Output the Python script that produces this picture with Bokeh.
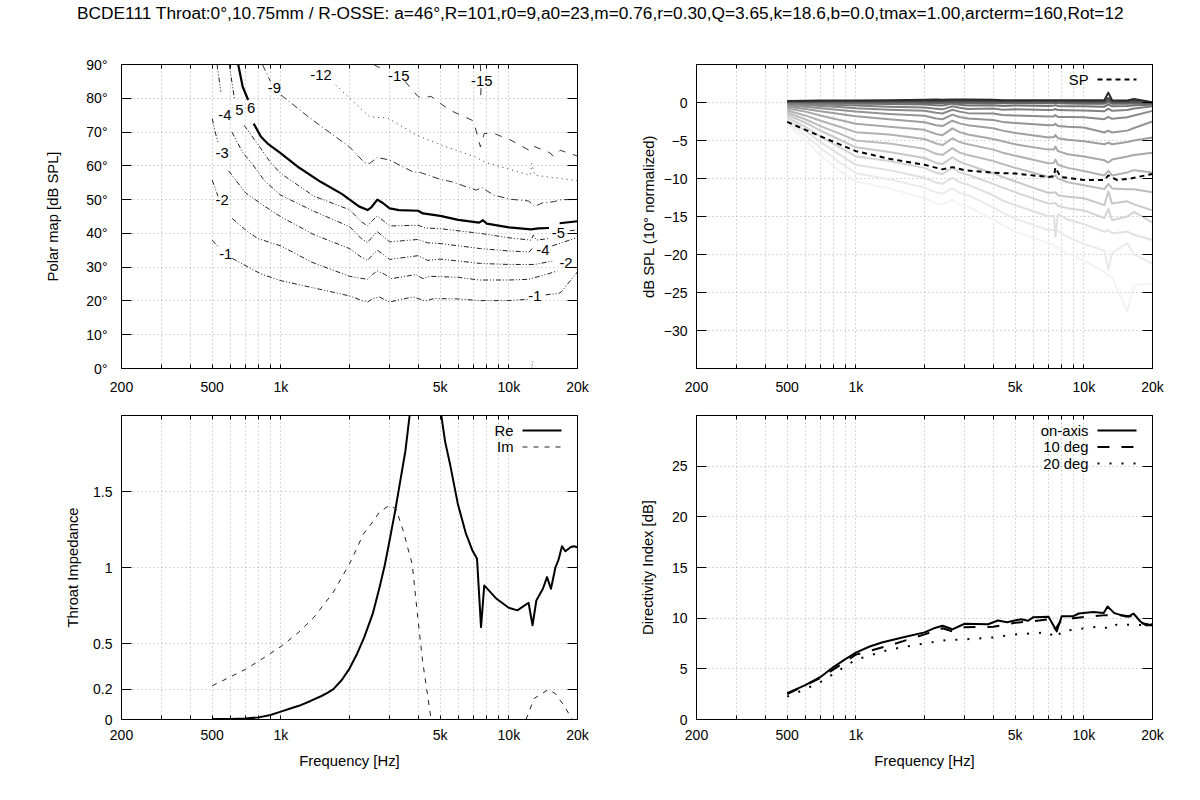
from bokeh.core.properties import value
from bokeh.embed import file_html
from bokeh.resources import INLINE
from bokeh.layouts import column, row
from bokeh.models import (ColumnDataSource, FixedTicker, Grid, Label, LinearAxis, LogAxis, LogScale,
                          Range1d, Title)
from bokeh.plotting import figure

nan = float("nan")

TITLE = ("BCDE111 Throat:0°,10.75mm / R-OSSE: a=46°,R=101,r0=9,a0=23,m=0.76,r=0.30,"
         "Q=3.65,k=18.6,b=0.0,tmax=1.00,arcterm=160,Rot=12")
x_major = [200, 500, 1000, 5000, 10000, 20000]
x_minor = [300, 400, 600, 700, 800, 900, 2000, 3000, 4000, 6000, 7000, 8000, 9000]
x_labels = {200: "200", 500: "500", 1000: "1k", 5000: "5k", 10000: "10k", 20000: "20k"}

# ---------- polar map contours ----------
polar_ticks = [0, 10, 20, 30, 40, 50, 60, 70, 80, 90]
c1_f = [500, 530, nan, 612, 817, 1000, 1363, 2000, 2250, 2400, 2520, 2700, 2850, 3000, 3800, 4300, 4700, 6000, 7400, 10000, 12200, nan, 14500, 16500, 17000, 20000]
c1_a = [38, 36, nan, 32.6, 28, 26, 24, 21.5, 20.2, 19.7, 20.6, 21.2, 20.4, 19.7, 21.2, 20, 20.7, 20.6, 20.1, 20.1, 20.5, nan, 21.8, 22.2, 22.7, 28.6]
c2_f = [500, 530, nan, 612, 700, 790, 1000, 1363, 2000, 2250, 2400, 2520, 2650, 2850, 3050, 3900, 4200, 4500, 6000, 7400, 10000, 12200, 15000, 16300, nan, 20000]
c2_a = [55.8, 51, nan, 44.4, 41, 38.5, 36.3, 31.5, 27.3, 26.7, 26.4, 27.8, 28.9, 27.9, 26.6, 27.8, 26.6, 27.3, 27, 26.2, 26.2, 26.4, 28.1, 28.9, nan, 32]
c3_f = [500, 515, 530, nan, 590, 700, 850, 1000, 1400, 2000, 2250, 2400, 2520, 2650, 2820, 3000, 4000, 4400, 5000, 7500, 10000, 13000, 15500, nan, 20000]
c3_a = [74, 70, 67, nan, 58.5, 52, 48, 44.9, 39.6, 35.5, 33, 32, 33.6, 35, 33.7, 32.3, 33.4, 32, 32.4, 31.1, 30.8, 30.8, 31.8, nan, 36]
c4_f = [525, 545, nan, 610, 680, 750, 850, 1000, 1400, 2000, 2250, 2400, 2520, 2650, 2820, 3000, 4000, 4400, 5000, 7500, 10000, 12300, 12800, nan, 15500, 20000]
c4_a = [90, 82, nan, 70, 64, 60.5, 55.5, 51.3, 46.5, 42, 38.5, 37.3, 39, 40.5, 39, 37.5, 38.2, 37.2, 37, 35.5, 34.8, 34.5, 36, nan, 36.3, 38.8]
c5_f = [594, 625, nan, 690, 800, 900, 1000, 1400, 2000, 2250, 2400, 2520, 2650, 2820, 3000, 4000, 4300, 5000, 7500, 10000, 12500, 12800, 13200, 15000, nan, 18500, 20000]
c5_a = [90, 80, nan, 72, 66, 61, 57.7, 51, 47, 43.5, 42.2, 43.8, 45.2, 43.7, 42.2, 42.4, 41.6, 41.4, 40, 38.7, 38, 39.5, 38, 38.5, nan, 40.8, 41]
c6_f = [650, 680, 719, nan, 760, 818, 875, 1000, 1200, 1500, 1850, 2200, 2400, 2500, 2650, 2800, 3000, 3300, 4000, 4200, 5000, 6000, 7400, 7700, 8000, 10000, 12500, 13500, 15000, nan, 16700, 20000]
c6_a = [90, 83.4, 79.5, nan, 72.5, 68.6, 66.6, 63.7, 59.5, 55.2, 51.7, 48, 46.9, 47.8, 50, 49, 47.4, 46.9, 46.7, 45.9, 45.2, 44, 43.2, 43.9, 42.9, 41.8, 41.2, 41.5, 41.6, nan, 43, 43.6]
c9_f = [830, 900, nan, 1000, 1350, 2000, 2330, 2450, 2650, 3000, 3800, 4100, 5000, 5600, 7200, 7600, 8600, 10200, 12200, 13000, 14000, 15800, 17000, 20000]
c9_a = [90, 85, nan, 81, 74, 65.6, 60.9, 60.7, 62.5, 61.7, 58.2, 58, 56, 55.3, 52.8, 53.6, 51.3, 50.1, 49.6, 48, 49, 49.4, 50, 50]
c12_f = [1740, 2450, 2930, 3970, 5100, 7100, 7900, 9800, 12400, 12600, 13000, 20000]
c12_a = [83.9, 74.5, 74.2, 69, 66, 62.7, 61, 59.2, 57.2, 60.7, 57.2, 55.6]
c15_f = [2550, 2800, nan, 3500, 4000, 4200, 4550, 5500, 7000, 7500, 7800, 8600, 10200, 12200, 12600, 15000, 15800, 16800, 20000]
c15_a = [90, 88.5, nan, 85, 80.5, 80, 80.6, 76.5, 73.3, 65.6, 69.6, 69.6, 67.6, 64.7, 66, 64, 62.7, 64.6, 62.9]
c15b_f = [7500, 7520, nan, 7550, 7500]
c15b_a = [90, 88, nan, 83, 78.5]
c_small_f = [12600, 12700]
c_small_a = [0, 2]
clab_text = ["-1", "-2", "-3", "-4", "5", "6", "-9", "-12", "-15", "-15", "-5", "-4", "-2", "-1"]
clab_f = [573, 552, 552, 568, 657, 740, 937, 1500, 3290, 7600, 16500, 14100, 17800, 13000]
clab_a = [33.9, 49.9, 63.7, 75, 76.5, 77, 83, 86.9, 86.6, 85, 40, 35.2, 31.3, 21.4]

# ---------- normalized SPL curves ----------
spl_ticks = [0, -5, -10, -15, -20, -25, -30]
spl_f = [500, 600, 700, 850, 1000, 1400, 2000, 2250, 2400, 2650, 2850, 3100, 4000, 4400, 5000, 7000, 7400, 7500, 7700, 8500, 10000, 12300, 12800, 13300, 15500, 16600, 20000]
L0 = [.2, .22, .25, .25, .25, .3, .35, .38, .35, .4, .4, .4, .35, .3, .3, .3, .3, .3, .3, .3, .3, .3, 1.3, .3, .25, .45, .05]
L1 = [.15, .17, .2, .2, .2, .2, .2, .2, .2, .25, .22, .2, .2, .2, .2, .2, .2, .2, .2, .2, .2, .2, .6, .2, .15, .25, 0]
L2 = [.1, .1, .1, .1, .1, .1, .1, .08, .05, .1, .1, .1, .1, .08, .1, .1, .1, .1, .1, .08, .05, .05, .3, .05, .05, .1, -.05]
L3 = [.05, .05, .05, .02, 0, 0, -.05, -.08, -.1, 0, -.05, -.1, -.05, -.1, -.1, -.1, -.08, -.05, -.1, -.12, -.15, -.15, .05, -.15, -.15, -.1, -.15]
L4 = [0, -.02, -.05, -.1, -.15, -.2, -.25, -.35, -.4, -.15, -.3, -.4, -.35, -.45, -.4, -.45, -.4, -.35, -.45, -.48, -.5, -.55, -.25, -.5, -.45, -.35, -.3]
L5 = [-.12, -.18, -.25, -.33, -.4, -.55, -.65, -.82, -.9, -.5, -.7, -.85, -.8, -.95, -.9, -1, -.95, -.85, -1, -1.02, -1.05, -1.15, -.8, -1.1, -1, -.8, -.5]
L6 = [-.22, -.33, -.45, -.6, -.75, -.95, -1.1, -1.35, -1.45, -.95, -1.2, -1.4, -1.45, -1.65, -1.7, -1.85, -1.8, -1.65, -1.9, -1.92, -1.95, -2.2, -1.9, -2.15, -1.95, -1.7, -1.1]
L7 = [-.38, -.55, -.75, -1, -1.2, -1.5, -1.75, -2.1, -2.2, -1.6, -1.9, -2.1, -2.3, -2.55, -2.7, -3, -2.95, -2.8, -3.1, -3.2, -3.3, -3.95, -3.7, -3.95, -3.7, -3.35, -2.5]
L8 = [-.55, -.85, -1.15, -1.5, -1.8, -2.2, -2.6, -3, -3.1, -2.4, -2.75, -3, -3.4, -3.7, -4, -4.6, -4.55, -4.3, -4.7, -4.9, -5.1, -5.5, -5.3, -5.5, -5.2, -5, -4.6]
L9 = [-.8, -1.2, -1.7, -2.3, -2.8, -3.2, -3.6, -4.15, -4.3, -3.4, -3.9, -4.2, -4.8, -5.1, -5.5, -6.2, -6.15, -5.8, -6.4, -6.8, -7.1, -7.6, -7.9, -7.5, -7.1, -6.9, -6.6]
L10 = [-1.05, -1.7, -2.4, -3.2, -3.9, -4.2, -4.8, -5.4, -5.6, -4.7, -5.2, -5.5, -6.2, -6.6, -7, -8, -7.95, -7.5, -8.2, -8.6, -9, -9.6, -9, -9.6, -9.2, -8.9, -9.2]
L11 = [-1.35, -2.2, -3.1, -4.1, -5, -5.4, -6.1, -6.75, -6.9, -6, -6.6, -6.9, -7.7, -8.1, -8.6, -9.8, -9.75, -9.55, -10, -10.5, -10.9, -11.4, -10.7, -11.3, -11.4, -11.4, -11.8]
L12 = [-1.65, -2.65, -3.7, -4.9, -5.9, -6.5, -7.3, -7.95, -8.1, -7.2, -7.8, -8.2, -9.3, -9.8, -10.4, -11.9, -11.85, -11.8, -12.2, -12.4, -12.6, -13.5, -11.7, -13.3, -13, -13.4, -14.2]
L13 = [-1.95, -3.2, -4.5, -5.9, -7.1, -7.7, -8.6, -9.25, -9.4, -8.6, -9.2, -9.5, -10.7, -11.2, -11.8, -13.3, -13.25, -13.2, -13.6, -13.9, -14.2, -15.2, -14, -15.5, -15, -14.4, -15.8]
L14 = [-2.25, -3.7, -5.2, -6.9, -8.2, -8.9, -9.9, -10.55, -10.7, -9.9, -10.5, -10.8, -12.2, -12.9, -13.5, -15, -14.9, -17.7, -14.7, -15.4, -16, -17, -16.8, -17.2, -17, -17.4, -18.1]
L15 = [-2.6, -4.3, -6, -7.9, -9.3, -10.1, -11.2, -11.85, -12, -11.3, -11.9, -12.2, -13.8, -14.5, -15.3, -16.8, -16.75, -16.7, -16.9, -17.7, -18.6, -19.5, -22, -19.8, -18.5, -20, -21.2]
L16 = [-2.9, -4.9, -7, -9, -10.4, -11.3, -12.6, -13.25, -13.4, -12.8, -13.4, -13.7, -15.4, -16.1, -17, -18.5, -18.7, -19, -19, -19.9, -20.8, -22.3, -22.8, -23, -27.5, -24, -23.8]
spl_series = [L0, L1, L2, L3, L4, L5, L6, L7, L8, L9, L10, L11, L12, L13, L14, L15, L16]
spl_grays = ["#2a2a2a", "#484848", "#585858", "#686868", "#747474", "#808080", "#8a8a8a", "#949494",
             "#9e9e9e", "#a8a8a8", "#b2b2b2", "#bcbcbc", "#c8c8c8", "#d4d4d4", "#e0e0e0", "#eaeaea", "#f3f3f3"]
sp_f = [500, 693, 1000, 1400, 2000, 2400, 2650, 3000, 4000, 5000, 7000, 7400, 7500, 7900, 10000, 12300, 12800, 14000, 16000, 20000]
sp_v = [-2.55, -4.4, -6.4, -7.4, -8.2, -8.8, -8.5, -8.9, -9.25, -9.35, -9.8, -9.7, -8.55, -9.8, -10.2, -10.2, -9.6, -10.2, -10, -9.4]

# ---------- throat impedance ----------
imp_ticks = [0, 0.2, 0.5, 1, 1.5]
imp_labels = {0: "0", 0.2: "0.2", 0.5: "0.5", 1: "1", 1.5: "1.5"}
re_f = [500, 600, 700, 800, 900, 1000, 1100, 1200, 1350, 1500, 1600, 1700, 1850, 2000, 2160, 2320, 2530, 2710, 2860, 3000, 3170, 3340, 3520, 3670, 3800, 5000, 5250, 5520, 5970, 6460, 6930, 7250, 7550, 7800, 8830, 9980, 10900, 12200, 12700, 13200, 14100, 14700, 15300, 16000, 16500, 17100, 17700, 18700, 19300, 20000]
re_v = [.003, .004, .006, .014, .03, .052, .072, .09, .122, .153, .175, .2, .26, .335, .433, .54, .696, .87, 1.02, 1.18, 1.37, 1.57, 1.77, 2.0, 2.3, 2.05, 1.83, 1.68, 1.42, 1.23, 1.11, 1.057, .608, .882, .794, .735, .718, .768, .62, .783, .86, .937, .86, 1.0, 1.05, 1.14, 1.107, 1.135, 1.14, 1.133]
im_f = [500, 600, 700, 850, 1000, 1200, 1400, 1700, 2000, 2160, 2300, 2530, 2700, 3000, 3200, 3460, 3600, 3770, 3970, 4180, 4560, nan, 11900, 12900, 14900, 16000, 17400, 19000]
im_v = [.222, .28, .33, .41, .48, .575, .674, .838, 1.024, 1.13, 1.22, 1.30, 1.363, 1.41, 1.385, 1.23, 1.13, 1.02, .695, .39, 0, nan, 0, .138, .197, .17, .094, 0]

# ---------- directivity index ----------
di_ticks = [0, 5, 10, 15, 20, 25]
di_f = [500, 600, 700, 800, 900, 1000, 1150, 1300, 1600, 2000, 2200, 2400, 2650, 3000, 3800, 4200, 4600, 5300, 5700, 6000, 7000, 7600, 8000, 9000, 9500, 11000, 12200, 12400, 12700, 13600, 15100, 15700, 16500, 17700, 18700, 20000]
di_on = [2.6, 3.4, 4.2, 5.2, 5.95, 6.6, 7.2, 7.6, 8.1, 8.6, 9, 9.25, 8.9, 9.45, 9.4, 9.77, 9.6, 9.9, 9.75, 10.1, 10.15, 8.7, 10.2, 10.2, 10.46, 10.6, 10.5, 10.75, 11.15, 10.5, 10.2, 10.15, 10.46, 9.67, 9.3, 9.3]
d10_f = [500, 700, 1000, 1400, 2000, 2400, 2650, 3000, 4000, 5000, 6000, 7000, 7500, 8000, 9000, 11000, 12500, 14000, 16000, 17000, 18000, 20000]
d10_v = [2.5, 4.1, 6.4, 7.3, 8.4, 9, 8.7, 9.1, 9.15, 9.55, 9.7, 9.9, 8.9, 9.9, 10, 10.2, 10.3, 10.3, 10.2, 10, 9.5, 9.3]
d20_f = [500, 600, 700, 1000, 1400, 2000, 2500, 3000, 4000, 5000, 7000, 7500, 8000, 10000, 12000, 13000, 14000, 17000, 20000]
d20_v = [2.25, 3, 3.7, 5.9, 6.9, 7.5, 7.85, 7.9, 8.1, 8.4, 8.6, 8, 8.7, 9, 9.2, 8.9, 9.4, 9.3, 9.4]

FONT = "Liberation Sans"
TICK_SIZE = "14px"
LAB_SIZE = "14.8px"
FRAME_W, FRAME_H = 456, 304


def panel(y_range, y_ticks, y_overrides, y_label, left, right, top, bottom, x_label=None,
          xtick_standoff=10, ytick_standoff=9, ylabel_standoff=10):
    p = figure(width=left + FRAME_W + right, height=top + FRAME_H + bottom,
               x_axis_type=None, y_axis_type=None, x_range=Range1d(200, 20000),
               y_range=Range1d(*y_range), output_backend="svg", toolbar_location=None,
               min_border_left=left, min_border_right=right, min_border_top=top,
               min_border_bottom=bottom, background_fill_color="white")
    p.x_scale = LogScale()
    xt = FixedTicker(ticks=x_major, minor_ticks=x_minor)
    yt = FixedTicker(ticks=y_ticks)
    for place in ("below", "above"):
        ax = LogAxis(ticker=xt, major_tick_in=4, major_tick_out=0, minor_tick_in=4, minor_tick_out=0,
                     axis_line_color="black", major_tick_line_color="black", minor_tick_line_color="black",
                     axis_line_width=1, major_tick_line_width=1, minor_tick_line_width=1)
        if place == "below":
            ax.major_label_overrides = x_labels
            ax.major_label_text_font = FONT
            ax.major_label_text_font_size = TICK_SIZE
            ax.major_label_text_color = "black"
            ax.major_label_standoff = xtick_standoff
            if x_label:
                ax.axis_label = x_label
                ax.axis_label_text_font = FONT
                ax.axis_label_text_font_size = LAB_SIZE
                ax.axis_label_text_font_style = "normal"
                ax.axis_label_text_color = "black"
                ax.axis_label_standoff = 7
        else:
            ax.major_label_text_font_size = "0px"
            ax.major_label_text_color = None
            ax.major_label_standoff = 0
        p.add_layout(ax, place)
    for place in ("left", "right"):
        ax = LinearAxis(ticker=yt, major_tick_in=10, major_tick_out=0, minor_tick_in=0, minor_tick_out=0,
                        axis_line_color="black", major_tick_line_color="black",
                        axis_line_width=1, major_tick_line_width=1)
        if place == "left":
            if y_overrides:
                ax.major_label_overrides = y_overrides
            ax.major_label_text_font = FONT
            ax.major_label_text_font_size = TICK_SIZE
            ax.major_label_text_color = "black"
            ax.major_label_standoff = ytick_standoff
            ax.axis_label = y_label
            ax.axis_label_text_font = FONT
            ax.axis_label_text_font_size = LAB_SIZE
            ax.axis_label_text_font_style = "normal"
            ax.axis_label_text_color = "black"
            ax.axis_label_standoff = ylabel_standoff
        else:
            ax.major_label_text_font_size = "0px"
            ax.major_label_text_color = None
            ax.major_label_standoff = 0
        p.add_layout(ax, place)
    p.add_layout(Grid(dimension=0, ticker=FixedTicker(ticks=x_major + x_minor), grid_line_color="#b0b0b0",
                      grid_line_dash=[1, 3], grid_line_width=1, level="underlay"))
    p.add_layout(Grid(dimension=1, ticker=yt, grid_line_color="#b0b0b0",
                      grid_line_dash=[1, 3], grid_line_width=1, level="underlay"))
    p.outline_line_color = "black"
    p.outline_line_width = 1
    return p


def legend(p, rows, y_range):
    """Right-aligned gnuplot style key: text, then a line sample, in frame pixels."""
    lo, hi = y_range
    for i, (text, kw) in enumerate(rows):
        py = 15 + 16.5 * i
        x0 = 200 * 100 ** ((FRAME_W - 55) / FRAME_W)
        x1 = 200 * 100 ** ((FRAME_W - 16) / FRAME_W)
        y = hi - (hi - lo) * py / FRAME_H
        p.line([x0, x1], [y, y], **kw)
        p.add_layout(Label(x=FRAME_W - 64, y=FRAME_H - py, x_units="screen", y_units="screen",
                           text=text, text_font=FONT, text_font_size=LAB_SIZE, text_color="black",
                           text_align="right", text_baseline="middle"))


title_fig = figure(width=1200, height=38, output_backend="svg", toolbar_location=None,
                   x_axis_type=None, y_axis_type=None, x_range=Range1d(0, 1), y_range=Range1d(0, 1),
                   min_border_left=0, min_border_right=0, min_border_top=11, min_border_bottom=0,
                   outline_line_color=None)
title_fig.title = Title(text=TITLE, align="center", text_font=FONT, text_font_size="17.3px",
                        text_font_style="normal", text_color="black", standoff=0, offset=0)

# top-left
YR1 = (0, 90)
p1 = panel(YR1, polar_ticks, {v: f"{v}°" for v in polar_ticks}, "Polar map [dB SPL]", 121, 31, 26, 32,
           ytick_standoff=14, ylabel_standoff=22)
dashdot = dict(line_color="#222222", line_width=1, line_dash=[5, 2, 1, 2, 1, 2], line_join="round")
for fx, ax in ((c1_f, c1_a), (c2_f, c2_a), (c3_f, c3_a), (c4_f, c4_a), (c5_f, c5_a)):
    p1.line(fx, ax, **dashdot)
p1.line(c6_f, c6_a, line_color="black", line_width=2.2, line_join="round")
p1.line(c9_f, c9_a, line_color="#333333", line_width=1, line_dash=[7, 3, 1, 3])
p1.line(c12_f, c12_a, line_color="#333333", line_width=1, line_dash=[1, 4])
p1.line(c15_f, c15_a, line_color="#333333", line_width=1, line_dash=[7, 8])
p1.line(c15b_f, c15b_a, line_color="#333333", line_width=1, line_dash=[7, 8])
p1.line(c_small_f, c_small_a, line_color="#333333", line_width=1, line_dash=[1, 2])
src = ColumnDataSource(dict(x=clab_f, y=clab_a, t=clab_text))
p1.text("x", "y", text="t", source=src, text_font=value(FONT), text_font_size=value(LAB_SIZE), text_color="black",
        text_align="center", text_baseline="middle")

# top-right
YR2 = (-35, 5)
p2 = panel(YR2, spl_ticks, None, "dB SPL (10° normalized)", 88, 32, 26, 32, ylabel_standoff=4)
for vals, col in reversed(list(zip(spl_series, spl_grays))):
    p2.line(spl_f, vals, line_color=col, line_width=2, line_join="round")
p2.line(sp_f, sp_v, line_color="black", line_width=2, line_dash=[5, 4])
legend(p2, [("SP", dict(line_color="black", line_width=2, line_dash=[5, 4]))], YR2)

# bottom-left
YR3 = (0, 2)
p3 = panel(YR3, imp_ticks, imp_labels, "Throat Impedance", 121, 31, 15, 71, "Frequency [Hz]",
           xtick_standoff=7, ylabel_standoff=9)
p3.line(re_f, re_v, line_color="black", line_width=2, line_join="round")
p3.line(im_f, im_v, line_color="#222222", line_width=1, line_dash=[5, 6])
legend(p3, [("Re", dict(line_color="black", line_width=2)),
            ("Im", dict(line_color="#222222", line_width=1, line_dash=[5, 6]))], YR3)

# bottom-right
YR4 = (0, 30)
p4 = panel(YR4, di_ticks, None, "Directivity Index [dB]", 88, 32, 15, 71, "Frequency [Hz]",
           xtick_standoff=7, ylabel_standoff=13)
p4.line(di_f, di_on, line_color="black", line_width=2, line_join="round")
p4.line(d10_f, d10_v, line_color="black", line_width=2, line_dash=[12, 12])
p4.line(d20_f, d20_v, line_color="black", line_width=2, line_dash=[2, 10])
legend(p4, [("on-axis", dict(line_color="black", line_width=2)),
            ("10 deg", dict(line_color="black", line_width=2, line_dash=[12, 12])),
            ("20 deg", dict(line_color="black", line_width=2, line_dash=[2, 10]))], YR4)

layout = column(title_fig, row(p1, p2), row(p3, p4))
open("out.html", "w").write(file_html(layout, INLINE))
